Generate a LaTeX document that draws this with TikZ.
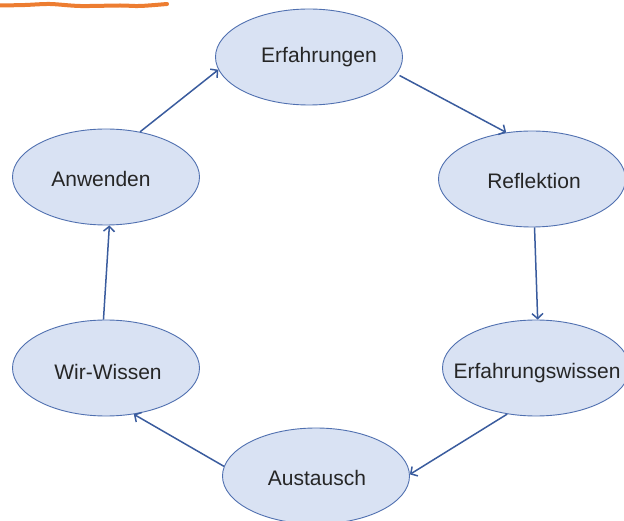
\documentclass[tikz,border=0pt]{standalone}
\usepackage{fontspec}
\setmainfont{Liberation Sans}
\usetikzlibrary{shapes.geometric,arrows.meta}
\definecolor{efill}{RGB}{217,226,243}
\definecolor{eline}{RGB}{80,112,176}
\definecolor{aline}{RGB}{58,92,158}
\definecolor{txt}{RGB}{38,38,38}
\definecolor{orng}{RGB}{237,125,49}
\tikzset{
  bubble/.style={ellipse, draw=eline, fill=efill, line width=0.9pt, inner sep=0pt,
    minimum width=187pt, minimum height=96pt},
  lbl/.style={anchor=base, text=txt, inner sep=0pt, font=\fontsize{21}{25}\selectfont},
  conn/.style={draw=aline, line width=1.5pt, -{Straight Barb[length=5pt,width=11pt,line width=1.5pt]}}
}
\begin{document}
\begin{tikzpicture}[x=1pt,y=-1pt]
\useasboundingbox (0,0) rectangle (624,521);
\clip (0,0) rectangle (624,521);
\draw[orng, line width=4pt, line cap=round] plot[smooth] coordinates {(0,5.5) (25,5) (50,4) (80,6) (120,5.5) (140,6) (167,4)};
\node[bubble] (erf) at (309,57) {};
\node[bubble] (ref) at (532,179) {};
\node[bubble] (ews) at (536,368) {};
\node[bubble] (aus) at (316,476) {};
\node[bubble] (wir) at (106,368) {};
\node[bubble] (anw) at (106,177) {};
\node[lbl] (terf) at (319,63) {Erfahrungen};
\node[lbl] (tref) at (534,189) {Reflektion};
\node[lbl] (tews) at (537,378) {Erfahrungswissen};
\node[lbl] (taus) at (317,485) {Austausch};
\node[lbl] (twir) at (108,379) {Wir-Wissen};
\node[lbl] (tanw) at (101,187) {Anwenden};
\draw[conn] (anw.53) -- (erf.188);
\draw[conn, shorten <=3pt] (erf.-11) -- (ref.119);
\draw[conn] (ref.-87) -- (ews.88);
\draw[conn] (ews.238) -- (aus.1);
\draw[conn] (aus.174) -- (wir.-59);
\draw[conn] (wir.93) -- (anw.-86);
\end{tikzpicture}
\end{document}
